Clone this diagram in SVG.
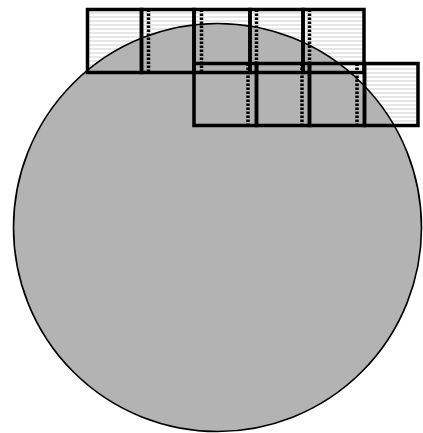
<svg xmlns="http://www.w3.org/2000/svg" width="423" height="433" viewBox="0 0 423 433">
<defs>
<pattern id="stripes" patternUnits="userSpaceOnUse" x="0" y="0" width="4" height="4">
<rect x="0" y="0" width="4" height="4" fill="#ffffff"/>
<rect x="0" y="0" width="4" height="2" fill="#e6e6e6"/>
</pattern>
</defs>
<style>
.die{fill:none;stroke:#000;stroke-width:3.5}
.dash{stroke:#000;stroke-width:3.5;stroke-dasharray:2.5 1.5;fill:none}
.wafer{fill:#b3b3b3;stroke:#000;stroke-width:1.6}
</style>
<g id="substrate">
<rect x="87.5" y="9.5" width="276.5" height="63" fill="url(#stripes)"/>
<rect x="194" y="63.5" width="224" height="62" fill="url(#stripes)"/>
</g>
<circle id="wafer" class="wafer" cx="217.5" cy="227.5" r="204"/>
<g id="scribe-lines">
<line class="dash" x1="148.5" y1="9.5" x2="148.5" y2="72.5"/>
<line class="dash" x1="201.5" y1="9.5" x2="201.5" y2="72.5"/>
<line class="dash" x1="256.5" y1="9.5" x2="256.5" y2="72.5"/>
<line class="dash" x1="309.5" y1="9.5" x2="309.5" y2="72.5"/>
<line class="dash" x1="248" y1="63.5" x2="248" y2="125.5"/>
<line class="dash" x1="302" y1="63.5" x2="302" y2="125.5"/>
<line class="dash" x1="357" y1="63.5" x2="357" y2="125.5"/>
</g>
<g id="row1">
<g id="die-1-1"><rect class="die" x="87.5" y="9.5" width="54" height="63"/></g>
<g id="die-1-2"><rect class="die" x="141.5" y="9.5" width="52.5" height="63"/></g>
<g id="die-1-3"><rect class="die" x="194" y="9.5" width="56" height="63"/></g>
<g id="die-1-4"><rect class="die" x="250" y="9.5" width="53" height="63"/></g>
<g id="die-1-5"><rect class="die" x="303" y="9.5" width="61" height="63"/></g>
</g>
<g id="row2">
<g id="die-2-1"><rect class="die" x="194" y="63.5" width="62.5" height="62"/></g>
<g id="die-2-2"><rect class="die" x="256.5" y="63.5" width="53" height="62"/></g>
<g id="die-2-3"><rect class="die" x="309.5" y="63.5" width="55" height="62"/></g>
<g id="die-2-4"><rect class="die" x="364.5" y="63.5" width="53.5" height="62"/></g>
</g>
</svg>
